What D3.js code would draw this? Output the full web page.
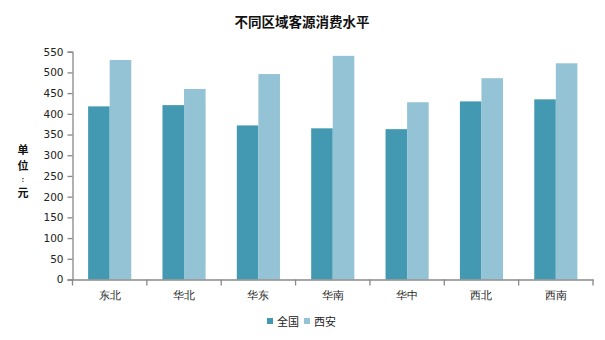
<!DOCTYPE html>
<html><head><meta charset="utf-8">
<script src="https://cdn.jsdelivr.net/npm/d3@7"></script>
<style>body{margin:0;background:#fff}svg{display:block;font-family:"Noto Sans CJK SC","Noto Sans",sans-serif}</style>
</head><body><svg id="c" width="605" height="340"></svg>
<script>
const categories = ["东北","华北","华东","华南","华中","西北","西南"];
const seriesNames = ["全国","西安"];
const nationalValues = [418,421,372,365,363,430,435];
const xianValues = [530,460,496,540,428,486,522];
const yTicks = [0,50,100,150,200,250,300,350,400,450,500,550];
const colors = ["#4399b1","#93c3d5"];

(function(){
const svg = d3.select("#c");
const mLeft = 72.5, mRight = 593, mTop = 51.7, mBottom = 279.5;
const x = d3.scaleBand().domain(categories).range([mLeft,mRight]).paddingInner(0).paddingOuter(0);
const y = d3.scaleLinear().domain([0,550]).range([mBottom,mTop]);
const barW = x.bandwidth()*0.29;

const data = categories.map((c,i)=>({c, v:[nationalValues[i], xianValues[i]]}));
const g = svg.append("g");
data.forEach(d=>{
  d.v.forEach((v,j)=>{
    const cx = x(d.c)+x.bandwidth()/2;
    g.append("rect").attr("x", cx - barW + j*barW).attr("width", barW)
      .attr("y", y(v)).attr("height", y(0)-y(v)).attr("fill", colors[j]);
  });
});

// y axis
const ya = svg.append("g").attr("transform",`translate(${mLeft},0)`)
  .call(d3.axisLeft(y).tickValues(yTicks).tickSize(5).tickPadding(4));
ya.select(".domain").attr("stroke","#888").attr("stroke-width",1.3);
ya.selectAll(".tick line").attr("stroke","#888").attr("stroke-width",1.3);
ya.selectAll("text").attr("fill","#222").attr("font-family","'DejaVu Sans',sans-serif").style("font-size","10.5px");

// x axis
const xa = svg.append("g").attr("transform",`translate(0,${mBottom})`)
  .call(d3.axisBottom(x).tickSize(0).tickPadding(12));
xa.select(".domain").attr("stroke","#888").attr("stroke-width",1.3);
xa.selectAll("text").attr("font-size",11).attr("fill","#222");
const bounds = categories.map(c=>x(c)).concat([mRight]);
xa.selectAll(".bt").data(bounds).enter().append("line")
  .attr("x1",d=>d).attr("x2",d=>d).attr("y1",0).attr("y2",6)
  .attr("stroke","#888").attr("stroke-width",1.3);

// title
svg.append("text").attr("x",302).attr("y",27).attr("text-anchor","middle")
  .attr("font-size",13.5).attr("font-weight","bold").attr("fill","#111").text("不同区域客源消费水平");

// y label
const yl = ["单","位",":","元"];
const yPos = [153.5,170,181.8,197];
const ySz = [11,11,7,11];
yl.forEach((ch,i)=>{
  svg.append("text").attr("x",23).attr("y",yPos[i]).attr("text-anchor","middle")
    .attr("font-weight","bold").attr("fill","#111").attr("font-size",ySz[i]).text(ch);
});

// legend
const lg = svg.append("g");
const lx = [267,304];
seriesNames.forEach((s,i)=>{
  lg.append("rect").attr("x",lx[i]).attr("y",318).attr("width",6).attr("height",6).attr("fill",colors[i]);
  lg.append("text").attr("x",lx[i]+10).attr("y",326).attr("font-size",11).attr("fill","#222").text(s);
});
})();
</script></body></html>
